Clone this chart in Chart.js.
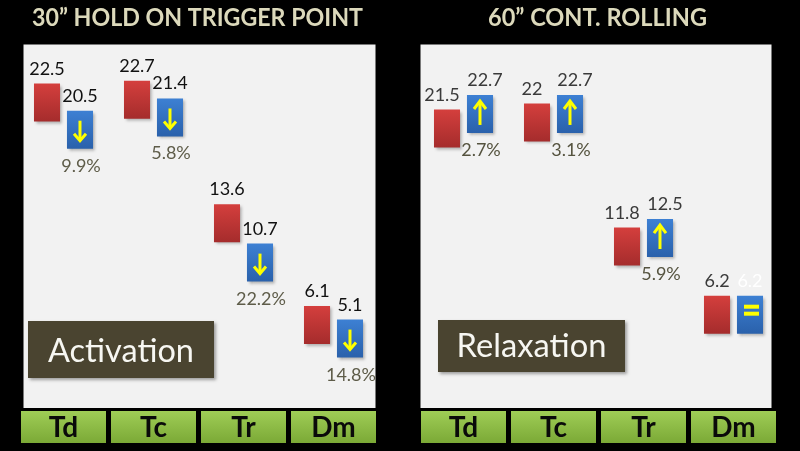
<!DOCTYPE html>
<html><head><meta charset="utf-8">
<script src="https://cdn.jsdelivr.net/npm/chart.js@4/dist/chart.umd.min.js"></script>
<style>
html,body{margin:0;padding:0;background:#000;width:800px;height:451px;overflow:hidden}
#wrap{position:relative;width:800px;height:451px}
canvas{position:absolute;top:0}
#c1{left:0}#c2{left:400px}
</style></head><body>
<div id="wrap"><canvas id="c1" width="400" height="451"></canvas><canvas id="c2" width="400" height="451"></canvas></div>
<script>
// ---- data ----
const categories = ['Td', 'Tc', 'Tr', 'Dm'];

const holdTitle  = '30\u201D HOLD ON TRIGGER POINT';
const holdBefore = [22.5, 22.7, 13.6, 6.1];
const holdAfter  = [20.5, 21.4, 10.7, 5.1];
const holdChange = ['9.9%', '5.8%', '22.2%', '14.8%'];
const holdNote   = 'Activation';

const rollTitle  = '60\u201D CONT. ROLLING';
const rollBefore = [21.5, 22, 11.8, 6.2];
const rollAfter  = [22.7, 22.7, 12.5, 6.2];
const rollChange = ['2.7%', '3.1%', '5.9%', ''];
const rollNote   = 'Relaxation';

// ---- axis ranges (value units) ----
const holdAxis = { min: -1.42, max: 25.38, box: 2.80 };
const rollAxis = { min: -3.03, max: 26.85, box: 3.12 };

// ---- styles ----
const holdStyle = {
  inL: 5, inR: 3, titleW: 331,
  note: { x: 28, y: 321, w: 186, h: 57, base: 362, fw: 146 },
  valColor: '#111111', afterColors: ['#111111','#111111','#111111','#111111'],
  shift: 0, pctColor: '#5e5c49'
};
const rollStyle = {
  inL: 2, inR: 7, titleW: 219,
  note: { x: 38, y: 320, w: 187, h: 52, base: 357, fw: 150 },
  valColor: '#3a3a3a', afterColors: ['#3a3a3a','#3a3a3a','#3a3a3a','#ffffff'],
  shift: 5, pctColor: '#55533f'
};

const FONT = 'Lato, "Open Sans", sans-serif';

function grad(top, bot) {
  return (c) => {
    const chart = c.chart;
    if (!chart.chartArea || !c.raw) return top;
    const ys = chart.scales.y;
    const t = ys.getPixelForValue(c.raw[1]);
    const b = ys.getPixelForValue(c.raw[0]);
    const g = chart.ctx.createLinearGradient(0, t, 0, b);
    g.addColorStop(0, top); g.addColorStop(1, bot);
    return g;
  };
}

function decoPlugin(cfg) {
  const st = cfg.style;
  return {
    id: 'deco',
    beforeDraw(chart) {
      const { ctx, chartArea: a } = chart;
      ctx.save();
      ctx.fillStyle = '#000';
      ctx.fillRect(0, 0, chart.width, chart.height);
      ctx.fillStyle = '#f2f2f2';
      ctx.fillRect(a.left + st.inL, a.top, (a.right - st.inR) - (a.left + st.inL), a.bottom - a.top);
      // title
      ctx.fillStyle = '#dcd9bb';
      ctx.font = 'bold 24px ' + FONT;
      ctx.textAlign = 'center';
      ctx.textBaseline = 'alphabetic';
      ctx.fillText(cfg.title, (a.left + a.right) / 2 - 1, 26, st.titleW);
      // category cells
      const xs = chart.scales.x;
      chart.data.labels.forEach((lab, i) => {
        const x = xs.getPixelForValue(i);
        const g = ctx.createLinearGradient(0, a.bottom + 3, 0, a.bottom + 35);
        g.addColorStop(0, '#9fcd56'); g.addColorStop(1, '#7ba936');
        ctx.fillStyle = g;
        ctx.fillRect(x - 42.5, a.bottom + 3, 85, 32);
        ctx.fillStyle = '#0a0a0a';
        ctx.font = 'bold 28px ' + FONT;
        ctx.fillText(lab, x, a.bottom + 29);
      });
      // note box
      const n = st.note;
      ctx.shadowColor = 'rgba(0,0,0,0.35)';
      ctx.shadowOffsetX = 2; ctx.shadowOffsetY = 2; ctx.shadowBlur = 3;
      ctx.fillStyle = '#4a4430';
      ctx.fillRect(n.x, n.y, n.w, n.h);
      ctx.shadowColor = 'transparent';
      ctx.fillStyle = '#f7f7f2';
      ctx.font = '33px ' + FONT;
      ctx.fillText(cfg.note, n.x + n.w / 2, n.base, n.fw);
      ctx.restore();
    },
    beforeDatasetsDraw(chart) {
      const ctx = chart.ctx;
      ctx.save();
      ctx.shadowColor = 'rgba(0,0,0,0.3)';
      ctx.shadowOffsetX = 2; ctx.shadowOffsetY = 2; ctx.shadowBlur = 3;
    },
    afterDatasetsDraw(chart) {
      const ctx = chart.ctx;
      ctx.restore();
      ctx.save();
      const m0 = chart.getDatasetMeta(0), m1 = chart.getDatasetMeta(1);
      ctx.textAlign = 'center';
      ctx.textBaseline = 'alphabetic';
      ctx.font = '18px ' + FONT;
      cfg.before.forEach((bv, i) => {
        const av = cfg.after[i];
        const r = m0.data[i], b = m1.data[i];
        const rTop = Math.min(r.y, r.base);
        const bTop = Math.min(b.y, b.base), bBot = Math.max(b.y, b.base);
        ctx.fillStyle = st.valColor;
        ctx.fillText(String(bv), r.x - (i < 3 ? st.shift : 0), rTop - 9);
        ctx.fillStyle = st.afterColors[i];
        ctx.fillText(String(av), b.x + (i < 3 ? st.shift : 0), bTop - 9);
        if (cfg.change[i]) {
          ctx.fillStyle = st.pctColor;
          ctx.fillText(cfg.change[i], b.x + 1, bBot + 23);
        }
        // arrow / equal sign
        ctx.strokeStyle = '#ffff00';
        ctx.fillStyle = '#ffff00';
        ctx.lineWidth = 3;
        ctx.lineCap = 'butt';
        ctx.lineJoin = 'miter';
        const x = b.x;
        if (av < bv) {
          ctx.beginPath();
          ctx.moveTo(x, bTop + 10); ctx.lineTo(x, bBot - 9);
          ctx.stroke();
          ctx.beginPath();
          ctx.moveTo(x - 6, bBot - 15); ctx.lineTo(x, bBot - 8); ctx.lineTo(x + 6, bBot - 15);
          ctx.stroke();
        } else if (av > bv) {
          ctx.beginPath();
          ctx.moveTo(x, bBot - 8); ctx.lineTo(x, bTop + 7);
          ctx.stroke();
          ctx.beginPath();
          ctx.moveTo(x - 6, bTop + 14); ctx.lineTo(x, bTop + 6); ctx.lineTo(x + 6, bTop + 14);
          ctx.stroke();
        } else {
          const cy = (bTop + bBot) / 2;
          ctx.fillRect(x - 6, cy - 10, 15, 4);
          ctx.fillRect(x - 6, cy - 3, 15, 4);
        }
      });
      ctx.restore();
    }
  };
}

function makePanel(id, cfg) {
  const ax = cfg.axis;
  return new Chart(document.getElementById(id), {
    type: 'bar',
    data: {
      labels: categories,
      datasets: [
        { label: 'Before', data: cfg.before.map(v => [v - ax.box, v]), backgroundColor: grad('#d43f3d', '#a52c2c') },
        { label: 'After',  data: cfg.after.map(v => [v - ax.box, v]),  backgroundColor: grad('#3d80d3', '#2a61ab') }
      ]
    },
    options: {
      responsive: false,
      animation: false,
      devicePixelRatio: 1,
      layout: { padding: { left: 18.5, right: 21.5, top: 44.5, bottom: 43 } },
      scales: {
        x: { display: false },
        y: { display: false, min: ax.min, max: ax.max }
      },
      datasets: { bar: { categoryPercentage: 0.733, barPercentage: 0.79, borderWidth: 0, borderSkipped: false } },
      plugins: { legend: { display: false }, tooltip: { enabled: false }, title: { display: false } }
    },
    plugins: [decoPlugin(cfg)]
  });
}

makePanel('c1', { title: holdTitle, before: holdBefore, after: holdAfter, change: holdChange, note: holdNote, axis: holdAxis, style: holdStyle });
makePanel('c2', { title: rollTitle, before: rollBefore, after: rollAfter, change: rollChange, note: rollNote, axis: rollAxis, style: rollStyle });
</script>
</body></html>
